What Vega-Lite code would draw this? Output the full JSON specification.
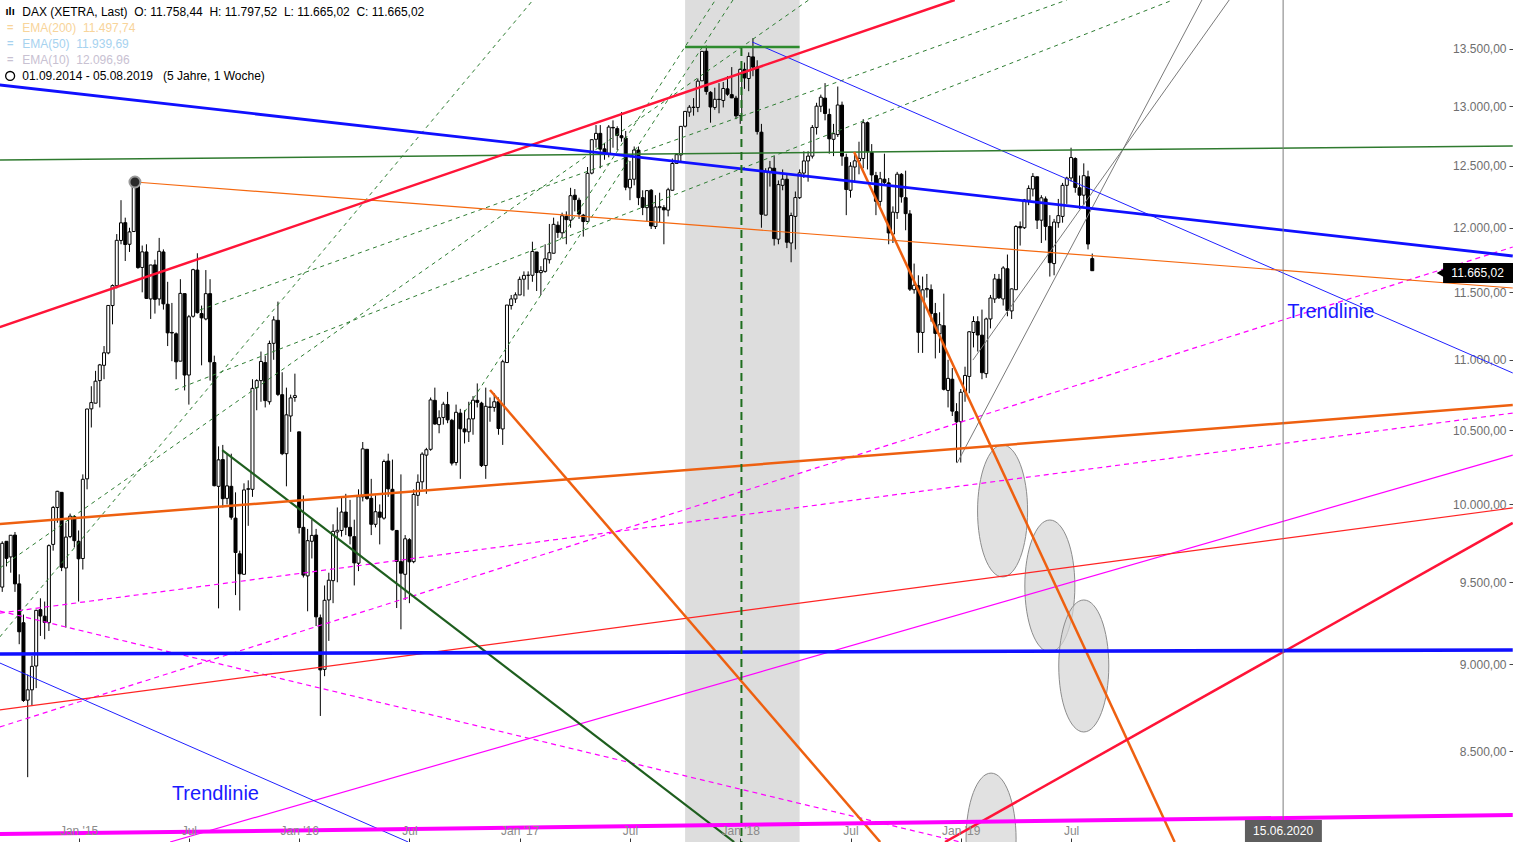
{
"$schema": "https://vega.github.io/schema/vega-lite/v6.json",
"width": 1513, "height": 842,
"autosize": {"type": "none"},
"padding": 0,
"background": "white",
"config": {"view": {"stroke": null}, "font": "Liberation Sans", "text": {"font": "Liberation Sans"}, "scale": {"continuousPadding": 0}},
"data": {"values": [{}]},
"datasets": {
"candles": [
{"d":"2014-09-01","o":9470,"h":9760,"l":9440,"c":9747},
{"d":"2014-09-08","o":9760,"h":9760,"l":9600,"c":9651},
{"d":"2014-09-15","o":9660,"h":9800,"l":9560,"c":9799},
{"d":"2014-09-22","o":9800,"h":9820,"l":9440,"c":9490},
{"d":"2014-09-29","o":9490,"h":9550,"l":9120,"c":9195},
{"d":"2014-10-06","o":9250,"h":9300,"l":8780,"c":8788},
{"d":"2014-10-13","o":8790,"h":8940,"l":8355,"c":8850},
{"d":"2014-10-20","o":8850,"h":9050,"l":8760,"c":8988},
{"d":"2014-10-27","o":8990,"h":9330,"l":8860,"c":9326},
{"d":"2014-11-03","o":9330,"h":9400,"l":9170,"c":9291},
{"d":"2014-11-10","o":9290,"h":9380,"l":9150,"c":9252},
{"d":"2014-11-17","o":9250,"h":9740,"l":9200,"c":9732},
{"d":"2014-11-24","o":9740,"h":9990,"l":9700,"c":9980},
{"d":"2014-12-01","o":9980,"h":10090,"l":9880,"c":10087},
{"d":"2014-12-08","o":10080,"h":10080,"l":9570,"c":9594},
{"d":"2014-12-15","o":9590,"h":9880,"l":9220,"c":9787},
{"d":"2014-12-22","o":9790,"h":9940,"l":9780,"c":9923},
{"d":"2014-12-29","o":9920,"h":9930,"l":9720,"c":9764},
{"d":"2015-01-05","o":9760,"h":9830,"l":9380,"c":9648},
{"d":"2015-01-12","o":9650,"h":10200,"l":9580,"c":10167},
{"d":"2015-01-19","o":10170,"h":10650,"l":10100,"c":10649},
{"d":"2015-01-26","o":10650,"h":10810,"l":10520,"c":10694},
{"d":"2015-02-02","o":10690,"h":10920,"l":10690,"c":10846},
{"d":"2015-02-09","o":10850,"h":10970,"l":10660,"c":10963},
{"d":"2015-02-16","o":10960,"h":11100,"l":10860,"c":11051},
{"d":"2015-02-23","o":11050,"h":11400,"l":11040,"c":11401},
{"d":"2015-03-02","o":11400,"h":11560,"l":11260,"c":11551},
{"d":"2015-03-09","o":11550,"h":11950,"l":11530,"c":11901},
{"d":"2015-03-16","o":11900,"h":12220,"l":11870,"c":12039},
{"d":"2015-03-23","o":12040,"h":12080,"l":11740,"c":11868},
{"d":"2015-03-30","o":11870,"h":12000,"l":11810,"c":11967},
{"d":"2015-04-06","o":11970,"h":12390,"l":11970,"c":12375},
{"d":"2015-04-13","o":12370,"h":12380,"l":11680,"c":11689},
{"d":"2015-04-20","o":11690,"h":11860,"l":11500,"c":11811},
{"d":"2015-04-27","o":11810,"h":11870,"l":11450,"c":11454},
{"d":"2015-05-04","o":11450,"h":11710,"l":11300,"c":11709},
{"d":"2015-05-11","o":11710,"h":11750,"l":11340,"c":11447},
{"d":"2015-05-18","o":11450,"h":11920,"l":11400,"c":11815},
{"d":"2015-05-25","o":11810,"h":11830,"l":11370,"c":11413},
{"d":"2015-06-01","o":11410,"h":11580,"l":11100,"c":11197},
{"d":"2015-06-08","o":11200,"h":11420,"l":10990,"c":11196},
{"d":"2015-06-15","o":11190,"h":11200,"l":10860,"c":10985},
{"d":"2015-06-22","o":10990,"h":11600,"l":10990,"c":11492},
{"d":"2015-06-29","o":11490,"h":11490,"l":10780,"c":10890},
{"d":"2015-07-06","o":10890,"h":11330,"l":10680,"c":11316},
{"d":"2015-07-13","o":11320,"h":11680,"l":11310,"c":11673},
{"d":"2015-07-20","o":11670,"h":11800,"l":11340,"c":11347},
{"d":"2015-07-27","o":11340,"h":11400,"l":10960,"c":11308},
{"d":"2015-08-03","o":11300,"h":11670,"l":11290,"c":11490},
{"d":"2015-08-10","o":11490,"h":11600,"l":10850,"c":10985},
{"d":"2015-08-17","o":10980,"h":11030,"l":10120,"c":10124},
{"d":"2015-08-24","o":10120,"h":10390,"l":9338,"c":10298},
{"d":"2015-08-31","o":10300,"h":10400,"l":9980,"c":10038},
{"d":"2015-09-07","o":10040,"h":10340,"l":10000,"c":10123},
{"d":"2015-09-14","o":10120,"h":10340,"l":9900,"c":9916},
{"d":"2015-09-21","o":9910,"h":10080,"l":9420,"c":9688},
{"d":"2015-09-28","o":9680,"h":9700,"l":9325,"c":9553},
{"d":"2015-10-05","o":9550,"h":10140,"l":9550,"c":10096},
{"d":"2015-10-12","o":10100,"h":10160,"l":9860,"c":10104},
{"d":"2015-10-19","o":10100,"h":10860,"l":10050,"c":10795},
{"d":"2015-10-26","o":10800,"h":10860,"l":10640,"c":10850},
{"d":"2015-11-02","o":10850,"h":11060,"l":10700,"c":10988},
{"d":"2015-11-09","o":10980,"h":11030,"l":10660,"c":10708},
{"d":"2015-11-16","o":10700,"h":11140,"l":10680,"c":11119},
{"d":"2015-11-23","o":11120,"h":11320,"l":11000,"c":11293},
{"d":"2015-11-30","o":11290,"h":11430,"l":10740,"c":10752},
{"d":"2015-12-07","o":10750,"h":10910,"l":10330,"c":10340},
{"d":"2015-12-14","o":10340,"h":10800,"l":10120,"c":10608},
{"d":"2015-12-21","o":10600,"h":10750,"l":10490,"c":10727},
{"d":"2015-12-28","o":10730,"h":10900,"l":10700,"c":10743},
{"d":"2016-01-04","o":10490,"h":10490,"l":9810,"c":9849},
{"d":"2016-01-11","o":9850,"h":10060,"l":9530,"c":9545},
{"d":"2016-01-18","o":9540,"h":9840,"l":9320,"c":9764},
{"d":"2016-01-25","o":9760,"h":9900,"l":9650,"c":9798},
{"d":"2016-02-01","o":9800,"h":9840,"l":9230,"c":9286},
{"d":"2016-02-08","o":9280,"h":9300,"l":8699,"c":8967},
{"d":"2016-02-15","o":8970,"h":9480,"l":8930,"c":9388},
{"d":"2016-02-22","o":9390,"h":9560,"l":9140,"c":9513},
{"d":"2016-02-29","o":9510,"h":9870,"l":9370,"c":9824},
{"d":"2016-03-07","o":9820,"h":9980,"l":9500,"c":9831},
{"d":"2016-03-14","o":9830,"h":10050,"l":9790,"c":9950},
{"d":"2016-03-21","o":9950,"h":10070,"l":9800,"c":9851},
{"d":"2016-03-28","o":9850,"h":10030,"l":9740,"c":9794},
{"d":"2016-04-04","o":9790,"h":9900,"l":9480,"c":9622},
{"d":"2016-04-11","o":9620,"h":10100,"l":9570,"c":10051},
{"d":"2016-04-18","o":10050,"h":10420,"l":10020,"c":10373},
{"d":"2016-04-25","o":10370,"h":10370,"l":10030,"c":10039},
{"d":"2016-05-02","o":10040,"h":10170,"l":9800,"c":9870},
{"d":"2016-05-09","o":9870,"h":10060,"l":9850,"c":9952},
{"d":"2016-05-16","o":9950,"h":10000,"l":9740,"c":9916},
{"d":"2016-05-23","o":9910,"h":10300,"l":9900,"c":10287},
{"d":"2016-05-30","o":10290,"h":10340,"l":10050,"c":10103},
{"d":"2016-06-06","o":10100,"h":10300,"l":9830,"c":9834},
{"d":"2016-06-13","o":9830,"h":9830,"l":9340,"c":9631},
{"d":"2016-06-20","o":9630,"h":10200,"l":9210,"c":9557},
{"d":"2016-06-27","o":9550,"h":9800,"l":9390,"c":9776},
{"d":"2016-07-04","o":9770,"h":9780,"l":9370,"c":9629},
{"d":"2016-07-11","o":9630,"h":10100,"l":9620,"c":10066},
{"d":"2016-07-18","o":10060,"h":10200,"l":9990,"c":10147},
{"d":"2016-07-25","o":10150,"h":10350,"l":10100,"c":10337},
{"d":"2016-08-01","o":10330,"h":10380,"l":10070,"c":10367},
{"d":"2016-08-08","o":10370,"h":10730,"l":10360,"c":10713},
{"d":"2016-08-15","o":10710,"h":10800,"l":10540,"c":10544},
{"d":"2016-08-22","o":10540,"h":10640,"l":10480,"c":10588},
{"d":"2016-08-29","o":10590,"h":10700,"l":10540,"c":10683},
{"d":"2016-09-05","o":10680,"h":10770,"l":10550,"c":10573},
{"d":"2016-09-12","o":10570,"h":10580,"l":10260,"c":10276},
{"d":"2016-09-19","o":10280,"h":10680,"l":10260,"c":10626},
{"d":"2016-09-26","o":10620,"h":10650,"l":10170,"c":10511},
{"d":"2016-10-03","o":10510,"h":10640,"l":10410,"c":10490},
{"d":"2016-10-10","o":10490,"h":10700,"l":10420,"c":10580},
{"d":"2016-10-17","o":10580,"h":10740,"l":10470,"c":10711},
{"d":"2016-10-24","o":10710,"h":10830,"l":10660,"c":10696},
{"d":"2016-10-31","o":10690,"h":10700,"l":10250,"c":10259},
{"d":"2016-11-07","o":10260,"h":10800,"l":10170,"c":10668},
{"d":"2016-11-14","o":10660,"h":10730,"l":10560,"c":10664},
{"d":"2016-11-21","o":10660,"h":10760,"l":10630,"c":10700},
{"d":"2016-11-28","o":10700,"h":10730,"l":10470,"c":10513},
{"d":"2016-12-05","o":10510,"h":11000,"l":10400,"c":10986},
{"d":"2016-12-12","o":10980,"h":11400,"l":10980,"c":11404},
{"d":"2016-12-19","o":11400,"h":11480,"l":11370,"c":11450},
{"d":"2016-12-26","o":11450,"h":11500,"l":11420,"c":11481},
{"d":"2017-01-02","o":11480,"h":11620,"l":11480,"c":11599},
{"d":"2017-01-09","o":11600,"h":11660,"l":11470,"c":11629},
{"d":"2017-01-16","o":11630,"h":11660,"l":11520,"c":11630},
{"d":"2017-01-23","o":11630,"h":11890,"l":11580,"c":11814},
{"d":"2017-01-30","o":11810,"h":11810,"l":11510,"c":11651},
{"d":"2017-02-06","o":11650,"h":11700,"l":11480,"c":11666},
{"d":"2017-02-13","o":11660,"h":11870,"l":11650,"c":11757},
{"d":"2017-02-20","o":11750,"h":12030,"l":11720,"c":11804},
{"d":"2017-02-27","o":11800,"h":12080,"l":11800,"c":12027},
{"d":"2017-03-06","o":12020,"h":12050,"l":11920,"c":11963},
{"d":"2017-03-13","o":11960,"h":12120,"l":11920,"c":12095},
{"d":"2017-03-20","o":12090,"h":12130,"l":11870,"c":12064},
{"d":"2017-03-27","o":12060,"h":12320,"l":12000,"c":12256},
{"d":"2017-04-03","o":12260,"h":12310,"l":12130,"c":12225},
{"d":"2017-04-10","o":12220,"h":12240,"l":12070,"c":12109},
{"d":"2017-04-17","o":12100,"h":12110,"l":11930,"c":12049},
{"d":"2017-04-24","o":12050,"h":12490,"l":12050,"c":12438},
{"d":"2017-05-01","o":12440,"h":12720,"l":12430,"c":12717},
{"d":"2017-05-08","o":12720,"h":12840,"l":12650,"c":12770},
{"d":"2017-05-15","o":12770,"h":12840,"l":12480,"c":12638},
{"d":"2017-05-22","o":12640,"h":12690,"l":12550,"c":12602},
{"d":"2017-05-29","o":12600,"h":12840,"l":12570,"c":12823},
{"d":"2017-06-05","o":12820,"h":12880,"l":12650,"c":12816},
{"d":"2017-06-12","o":12810,"h":12830,"l":12630,"c":12753},
{"d":"2017-06-19","o":12750,"h":12950,"l":12700,"c":12733},
{"d":"2017-06-26","o":12730,"h":12790,"l":12300,"c":12325},
{"d":"2017-07-03","o":12320,"h":12540,"l":12220,"c":12389},
{"d":"2017-07-10","o":12390,"h":12660,"l":12340,"c":12631},
{"d":"2017-07-17","o":12630,"h":12660,"l":12180,"c":12240},
{"d":"2017-07-24","o":12240,"h":12300,"l":12100,"c":12162},
{"d":"2017-07-31","o":12160,"h":12300,"l":12050,"c":12297},
{"d":"2017-08-07","o":12300,"h":12310,"l":11990,"c":12014},
{"d":"2017-08-14","o":12010,"h":12260,"l":11990,"c":12165},
{"d":"2017-08-21","o":12160,"h":12280,"l":12040,"c":12168},
{"d":"2017-08-28","o":12160,"h":12180,"l":11870,"c":12142},
{"d":"2017-09-04","o":12140,"h":12320,"l":12090,"c":12304},
{"d":"2017-09-11","o":12300,"h":12560,"l":12300,"c":12519},
{"d":"2017-09-18","o":12520,"h":12600,"l":12520,"c":12592},
{"d":"2017-09-25","o":12590,"h":12830,"l":12530,"c":12829},
{"d":"2017-10-02","o":12830,"h":12960,"l":12820,"c":12956},
{"d":"2017-10-09","o":12950,"h":13010,"l":12910,"c":12992},
{"d":"2017-10-16","o":12990,"h":13070,"l":12920,"c":12992},
{"d":"2017-10-23","o":12990,"h":13240,"l":12950,"c":13217},
{"d":"2017-10-30","o":13220,"h":13480,"l":13220,"c":13479},
{"d":"2017-11-06","o":13480,"h":13530,"l":13100,"c":13127},
{"d":"2017-11-13","o":13120,"h":13130,"l":12860,"c":12994},
{"d":"2017-11-20","o":12990,"h":13160,"l":12970,"c":13060},
{"d":"2017-11-27","o":13060,"h":13200,"l":12940,"c":13058},
{"d":"2017-12-04","o":13050,"h":13210,"l":12990,"c":13153},
{"d":"2017-12-11","o":13150,"h":13260,"l":13090,"c":13104},
{"d":"2017-12-18","o":13100,"h":13340,"l":13070,"c":13072},
{"d":"2017-12-25","o":13070,"h":13090,"l":12890,"c":12918},
{"d":"2018-01-01","o":12920,"h":13330,"l":12850,"c":13320},
{"d":"2018-01-08","o":13320,"h":13380,"l":13150,"c":13245},
{"d":"2018-01-15","o":13240,"h":13470,"l":13130,"c":13434},
{"d":"2018-01-22","o":13430,"h":13597,"l":13260,"c":13340},
{"d":"2018-01-29","o":13340,"h":13400,"l":12760,"c":12785},
{"d":"2018-02-05","o":12780,"h":12850,"l":12000,"c":12107},
{"d":"2018-02-12","o":12100,"h":12480,"l":12100,"c":12452},
{"d":"2018-02-19","o":12450,"h":12540,"l":12330,"c":12483},
{"d":"2018-02-26","o":12480,"h":12580,"l":11860,"c":11914},
{"d":"2018-03-05","o":11910,"h":12380,"l":11870,"c":12346},
{"d":"2018-03-12","o":12340,"h":12470,"l":12300,"c":12390},
{"d":"2018-03-19","o":12390,"h":12440,"l":11840,"c":11886},
{"d":"2018-03-26","o":11880,"h":12120,"l":11730,"c":12097},
{"d":"2018-04-02","o":12090,"h":12290,"l":11830,"c":12241},
{"d":"2018-04-09","o":12240,"h":12470,"l":12230,"c":12442},
{"d":"2018-04-16","o":12440,"h":12620,"l":12400,"c":12540},
{"d":"2018-04-23","o":12540,"h":12620,"l":12370,"c":12580},
{"d":"2018-04-30","o":12580,"h":12840,"l":12560,"c":12820},
{"d":"2018-05-07","o":12820,"h":13030,"l":12760,"c":13001},
{"d":"2018-05-14","o":13000,"h":13100,"l":12950,"c":13078},
{"d":"2018-05-21","o":13070,"h":13200,"l":12880,"c":12938},
{"d":"2018-05-28","o":12930,"h":12980,"l":12600,"c":12724},
{"d":"2018-06-04","o":12720,"h":12850,"l":12580,"c":12767},
{"d":"2018-06-11","o":12760,"h":13170,"l":12740,"c":13011},
{"d":"2018-06-18","o":13010,"h":13040,"l":12500,"c":12580},
{"d":"2018-06-25","o":12570,"h":12600,"l":12100,"c":12306},
{"d":"2018-07-02","o":12300,"h":12530,"l":12240,"c":12497},
{"d":"2018-07-09","o":12490,"h":12610,"l":12360,"c":12541},
{"d":"2018-07-16","o":12540,"h":12700,"l":12430,"c":12561},
{"d":"2018-07-23","o":12560,"h":12890,"l":12480,"c":12860},
{"d":"2018-07-30","o":12860,"h":12870,"l":12470,"c":12616},
{"d":"2018-08-06","o":12610,"h":12680,"l":12370,"c":12425},
{"d":"2018-08-13","o":12420,"h":12450,"l":12100,"c":12211},
{"d":"2018-08-20","o":12210,"h":12450,"l":12170,"c":12394},
{"d":"2018-08-27","o":12390,"h":12600,"l":12340,"c":12364},
{"d":"2018-09-03","o":12360,"h":12400,"l":11870,"c":11959},
{"d":"2018-09-10","o":11950,"h":12170,"l":11880,"c":12124},
{"d":"2018-09-17","o":12120,"h":12450,"l":12070,"c":12431},
{"d":"2018-09-24","o":12430,"h":12440,"l":12200,"c":12247},
{"d":"2018-10-01","o":12240,"h":12460,"l":11980,"c":12112},
{"d":"2018-10-08","o":12110,"h":12140,"l":11510,"c":11524},
{"d":"2018-10-15","o":11520,"h":11720,"l":11490,"c":11554},
{"d":"2018-10-22","o":11550,"h":11630,"l":11050,"c":11201},
{"d":"2018-10-29","o":11200,"h":11620,"l":11050,"c":11519},
{"d":"2018-11-05","o":11520,"h":11640,"l":11460,"c":11529},
{"d":"2018-11-12","o":11520,"h":11560,"l":11280,"c":11341},
{"d":"2018-11-19","o":11340,"h":11420,"l":11010,"c":11193},
{"d":"2018-11-26","o":11190,"h":11350,"l":11050,"c":11257},
{"d":"2018-12-03","o":11250,"h":11490,"l":10780,"c":10788},
{"d":"2018-12-10","o":10780,"h":11000,"l":10660,"c":10866},
{"d":"2018-12-17","o":10860,"h":10940,"l":10600,"c":10634},
{"d":"2018-12-24","o":10630,"h":10690,"l":10280,"c":10559},
{"d":"2018-12-31","o":10560,"h":10790,"l":10280,"c":10767},
{"d":"2019-01-07","o":10770,"h":10950,"l":10700,"c":10887},
{"d":"2019-01-14","o":10880,"h":11210,"l":10760,"c":11205},
{"d":"2019-01-21","o":11200,"h":11320,"l":11090,"c":11281},
{"d":"2019-01-28","o":11280,"h":11320,"l":11060,"c":11181},
{"d":"2019-02-04","o":11180,"h":11370,"l":10860,"c":10907},
{"d":"2019-02-11","o":10900,"h":11310,"l":10870,"c":11300},
{"d":"2019-02-18","o":11300,"h":11480,"l":11230,"c":11457},
{"d":"2019-02-25","o":11450,"h":11640,"l":11420,"c":11602},
{"d":"2019-03-04","o":11600,"h":11640,"l":11450,"c":11458},
{"d":"2019-03-11","o":11450,"h":11700,"l":11400,"c":11686},
{"d":"2019-03-18","o":11680,"h":11790,"l":11320,"c":11364},
{"d":"2019-03-25","o":11360,"h":11530,"l":11300,"c":11526},
{"d":"2019-04-01","o":11520,"h":12020,"l":11520,"c":12010},
{"d":"2019-04-08","o":12010,"h":12050,"l":11860,"c":11999},
{"d":"2019-04-15","o":12000,"h":12230,"l":11990,"c":12222},
{"d":"2019-04-22","o":12220,"h":12340,"l":12180,"c":12315},
{"d":"2019-04-29","o":12310,"h":12440,"l":12250,"c":12413},
{"d":"2019-05-06","o":12410,"h":12410,"l":11990,"c":12060},
{"d":"2019-05-13","o":12060,"h":12260,"l":11880,"c":12239},
{"d":"2019-05-20","o":12230,"h":12250,"l":11900,"c":12011},
{"d":"2019-05-27","o":12010,"h":12100,"l":11620,"c":11727},
{"d":"2019-06-03","o":11720,"h":12070,"l":11630,"c":12045},
{"d":"2019-06-10","o":12040,"h":12230,"l":12000,"c":12096},
{"d":"2019-06-17","o":12090,"h":12360,"l":12040,"c":12340},
{"d":"2019-06-24","o":12340,"h":12410,"l":12190,"c":12399},
{"d":"2019-07-01","o":12400,"h":12650,"l":12370,"c":12568},
{"d":"2019-07-08","o":12560,"h":12570,"l":12280,"c":12323},
{"d":"2019-07-15","o":12320,"h":12420,"l":12150,"c":12260},
{"d":"2019-07-22","o":12260,"h":12520,"l":12180,"c":12419},
{"d":"2019-07-29","o":12410,"h":12460,"l":11830,"c":11872},
{"d":"2019-08-05","o":11758.44,"h":11797.52,"l":11665.02,"c":11665.02}
],
"lines": [
{"k":"L1","d":"2014-08-28","p":13183.5},{"k":"L1","d":"2021-06-29","p":11778.6},
{"k":"L10","d":"2014-08-28","p":9061.5},{"k":"L10","d":"2021-06-29","p":9085.4},
{"k":"L2","d":"2018-01-21","p":13562},{"k":"L2","d":"2021-06-29","p":10904.8},
{"k":"L11","d":"2014-08-28","p":9007.9},{"k":"L11","d":"2016-07-02","p":8005.6},
{"k":"L3","d":"2014-08-28","p":12547.8},{"k":"L3","d":"2021-06-29","p":12664.1},
{"k":"L4","d":"2014-08-28","p":11240.1},{"k":"L4","d":"2018-12-21","p":13943},
{"k":"L14","d":"2018-12-05","p":8005.6},{"k":"L14","d":"2021-06-29","p":9878.6},
{"k":"L5","d":"2015-04-08","p":12367},{"k":"L5","d":"2021-06-29","p":11532.7},
{"k":"L6","d":"2014-08-28","p":9872.1},{"k":"L6","d":"2021-06-29","p":10676.7},
{"k":"L7","d":"2016-11-14","p":10783},{"k":"L7","d":"2018-08-20","p":8005.6},
{"k":"L8","d":"2018-07-08","p":12614},{"k":"L8","d":"2019-12-19","p":8005.6},
{"k":"L9","d":"2015-08-30","p":10365},{"k":"L9","d":"2017-12-22","p":8005.6},
{"k":"L12","d":"2015-06-05","p":8005.6},{"k":"L12","d":"2021-06-29","p":10330.3},
{"k":"L13","d":"2014-08-28","p":8733.2},{"k":"L13","d":"2021-06-29","p":9976.7},
{"k":"L15","d":"2014-08-28","p":8047.4},{"k":"L15","d":"2021-06-29","p":8148.8},
{"k":"L16","d":"2014-08-28","p":8635.9},{"k":"L16","d":"2021-06-29","p":11848.6},
{"k":"L17","d":"2014-08-28","p":9309.1},{"k":"L17","d":"2021-06-29","p":10620.5},
{"k":"L18","d":"2014-08-28","p":9321.4},{"k":"L18","d":"2018-12-30","p":8005.6},
{"k":"GA","d":"2014-08-28","p":9163.8},{"k":"GA","d":"2017-01-24","p":13943},
{"k":"GB","d":"2014-08-28","p":9589.3},{"k":"GB","d":"2018-04-24","p":13943},
{"k":"GC","d":"2015-06-13","p":10783},{"k":"GC","d":"2019-12-16","p":13943},
{"k":"GE","d":"2015-07-24","p":11366.7},{"k":"GE","d":"2019-06-24","p":13943},
{"k":"GF","d":"2016-10-03","p":10627.4},{"k":"GF","d":"2017-12-20","p":13943},
{"k":"GG","d":"2017-03-09","p":11903.3},{"k":"GG","d":"2017-11-21","p":13943},
{"k":"G1","d":"2018-12-25","p":10276},{"k":"G1","d":"2020-02-02","p":13943},
{"k":"G2","d":"2019-01-20","p":10998},{"k":"G2","d":"2020-03-18","p":13943}
],
"ellipses": [
{"d":"2019-03-10","p":9957},
{"d":"2019-05-27","p":9476.6},
{"d":"2019-07-22","p":8990.2},
{"d":"2019-02-19","p":8020.9}
]
},
"layer": [
{
"mark": {"type": "rect", "fill": "#d9d9d9", "opacity": 0.9},
"encoding": {
"x": {"datum": {"year":2017,"month":10,"date":2,"utc":true}, "type": "temporal", "title": null,
"scale": {"type": "utc", "domain": [{"year":2014,"month":8,"date":28,"hours":7,"utc":true},{"year":2021,"month":6,"date":29,"hours":10,"utc":true}], "nice": false, "padding": 0}},
"x2": {"datum": {"year":2018,"month":4,"date":9,"utc":true}}
}
},
{
"data": {"name": "ellipses"},
"mark": {"type": "point", "shape": "M0,-1A0.379,1,0,1,1,0,1A0.379,1,0,1,1,0,-1Z", "size": 17424, "filled": true, "fill": "#d6d6d6", "fillOpacity": 0.72, "stroke": "#8c8c8c", "strokeWidth": 1, "opacity": 1, "clip": true},
"encoding": {
"x": {"field": "d", "type": "temporal", "title": null},
"y": {"field": "p", "type": "quantitative", "title": null}
}
},
{
"data": {"name": "candles"},
"mark": {"type": "rule", "color": "black", "strokeWidth": 1},
"encoding": {
"x": {"field": "d", "type": "temporal", "title": null,
"scale": {"type": "utc", "domain": [{"year":2014,"month":8,"date":28,"hours":7,"utc":true},{"year":2021,"month":6,"date":29,"hours":10,"utc":true}], "nice": false, "padding": 0},
"axis": {"values": [
{"year":2015,"month":1,"date":5,"utc":true},{"year":2015,"month":7,"date":6,"utc":true},
{"year":2016,"month":1,"date":4,"utc":true},{"year":2016,"month":7,"date":4,"utc":true},
{"year":2017,"month":1,"date":2,"utc":true},{"year":2017,"month":7,"date":3,"utc":true},
{"year":2018,"month":1,"date":1,"utc":true},{"year":2018,"month":7,"date":2,"utc":true},
{"year":2018,"month":12,"date":31,"utc":true},{"year":2019,"month":7,"date":1,"utc":true}],
"labelExpr": "utcmonth(datum.value) == 6 ? 'Jul' : \"Jan '\" + utcFormat(datum.value + 604800000, '%y')",
"domain": false, "grid": false, "tickSize": -4, "tickColor": "#333", "tickWidth": 1,
"labelPadding": -1, "labelBaseline": "bottom", "labelColor": "#8a8a8a", "labelFontSize": 12, "labelFont": "Liberation Sans",
"labelOverlap": false, "labelFlush": false, "title": null, "zindex": 1}},
"y": {"field": "l", "type": "quantitative", "title": null,
"scale": {"type": "log", "domain": [8005.6, 13943], "nice": false, "padding": 0},
"axis": {"orient": "right", "values": [8500,9000,9500,10000,10500,11000,11500,12000,12500,13000,13500],
"labelExpr": "replace(replace(replace(format(datum.value, ',.2f'), ',', '#'), '.', ','), '#', '.')",
"domain": false, "grid": false, "tickSize": -4, "tickColor": "#444", "labelPadding": -3,
"labelAlign": "right", "labelBaseline": "middle", "labelColor": "#6e6e6e", "labelFontSize": 12, "labelFont": "Liberation Sans",
"labelOverlap": false, "labelFlush": false, "title": null}},
"y2": {"field": "h"}
}
},
{
"data": {"name": "candles"},
"mark": {"type": "bar", "width": 3, "stroke": "black", "strokeWidth": 1},
"encoding": {
"x": {"field": "d", "type": "temporal", "title": null},
"y": {"field": "o", "type": "quantitative", "title": null},
"y2": {"field": "c"},
"fill": {"condition": {"test": "datum.c >= datum.o", "value": "white"}, "value": "black"}
}
},
{
"data": {"name": "lines"},
"transform": [{"filter": {"field": "k", "oneOf": ["GA","GB","GC","GE","GF","GG"]}}],
"mark": {"type": "line", "color": "#2e7d32", "strokeWidth": 1, "strokeDash": [4,4], "clip": true},
"encoding": {"x": {"field": "d", "type": "temporal", "title": null}, "y": {"field": "p", "type": "quantitative", "title": null}, "detail": {"field": "k"}}
},
{
"data": {"name": "lines"},
"transform": [{"filter": {"field": "k", "oneOf": ["L16","L17","L18"]}}],
"mark": {"type": "line", "color": "#ff00ff", "strokeWidth": 1.2, "strokeDash": [5,4], "clip": true},
"encoding": {"x": {"field": "d", "type": "temporal", "title": null}, "y": {"field": "p", "type": "quantitative", "title": null}, "detail": {"field": "k"}}
},
{
"data": {"name": "lines"},
"transform": [{"filter": {"field": "k", "oneOf": ["G1","G2"]}}],
"mark": {"type": "line", "color": "#7a7a7a", "strokeWidth": 1, "clip": true},
"encoding": {"x": {"field": "d", "type": "temporal", "title": null}, "y": {"field": "p", "type": "quantitative", "title": null}, "detail": {"field": "k"}}
},
{
"data": {"name": "lines"},
"transform": [{"filter": {"field": "k", "oneOf": ["L12"]}}],
"mark": {"type": "line", "color": "#ff00ff", "strokeWidth": 1.2, "clip": true},
"encoding": {"x": {"field": "d", "type": "temporal", "title": null}, "y": {"field": "p", "type": "quantitative", "title": null}, "detail": {"field": "k"}}
},
{
"data": {"name": "lines"},
"transform": [{"filter": {"field": "k", "oneOf": ["L13"]}}],
"mark": {"type": "line", "color": "#ff2424", "strokeWidth": 1.2, "clip": true},
"encoding": {"x": {"field": "d", "type": "temporal", "title": null}, "y": {"field": "p", "type": "quantitative", "title": null}, "detail": {"field": "k"}}
},
{
"data": {"name": "lines"},
"transform": [{"filter": {"field": "k", "oneOf": ["L2","L11"]}}],
"mark": {"type": "line", "color": "#2020ff", "strokeWidth": 1, "clip": true},
"encoding": {"x": {"field": "d", "type": "temporal", "title": null}, "y": {"field": "p", "type": "quantitative", "title": null}, "detail": {"field": "k"}}
},
{
"data": {"name": "lines"},
"transform": [{"filter": {"field": "k", "oneOf": ["L3"]}}],
"mark": {"type": "line", "color": "#2f7a2f", "strokeWidth": 1.5, "clip": true},
"encoding": {"x": {"field": "d", "type": "temporal", "title": null}, "y": {"field": "p", "type": "quantitative", "title": null}, "detail": {"field": "k"}}
},
{
"data": {"name": "lines"},
"transform": [{"filter": {"field": "k", "oneOf": ["L5"]}}],
"mark": {"type": "line", "color": "#f5680f", "strokeWidth": 1.2, "clip": true},
"encoding": {"x": {"field": "d", "type": "temporal", "title": null}, "y": {"field": "p", "type": "quantitative", "title": null}, "detail": {"field": "k"}}
},
{
"data": {"name": "lines"},
"transform": [{"filter": {"field": "k", "oneOf": ["L9"]}}],
"mark": {"type": "line", "color": "#1e5e1e", "strokeWidth": 2.2, "clip": true},
"encoding": {"x": {"field": "d", "type": "temporal", "title": null}, "y": {"field": "p", "type": "quantitative", "title": null}, "detail": {"field": "k"}}
},
{
"data": {"name": "lines"},
"transform": [{"filter": {"field": "k", "oneOf": ["L6","L7","L8"]}}],
"mark": {"type": "line", "color": "#ee6010", "strokeWidth": 2.5, "clip": true},
"encoding": {"x": {"field": "d", "type": "temporal", "title": null}, "y": {"field": "p", "type": "quantitative", "title": null}, "detail": {"field": "k"}}
},
{
"data": {"name": "lines"},
"transform": [{"filter": {"field": "k", "oneOf": ["L4","L14"]}}],
"mark": {"type": "line", "color": "#ff1438", "strokeWidth": 2.5, "clip": true},
"encoding": {"x": {"field": "d", "type": "temporal", "title": null}, "y": {"field": "p", "type": "quantitative", "title": null}, "detail": {"field": "k"}}
},
{
"data": {"name": "lines"},
"transform": [{"filter": {"field": "k", "oneOf": ["L15"]}}],
"mark": {"type": "line", "color": "#ff00ff", "strokeWidth": 4, "clip": true},
"encoding": {"x": {"field": "d", "type": "temporal", "title": null}, "y": {"field": "p", "type": "quantitative", "title": null}, "detail": {"field": "k"}}
},
{
"data": {"name": "lines"},
"transform": [{"filter": {"field": "k", "oneOf": ["L1"]}}],
"mark": {"type": "line", "color": "#1010ff", "strokeWidth": 2.8, "clip": true},
"encoding": {"x": {"field": "d", "type": "temporal", "title": null}, "y": {"field": "p", "type": "quantitative", "title": null}, "detail": {"field": "k"}}
},
{
"data": {"name": "lines"},
"transform": [{"filter": {"field": "k", "oneOf": ["L10"]}}],
"mark": {"type": "line", "color": "#1010ff", "strokeWidth": 3.6, "clip": true},
"encoding": {"x": {"field": "d", "type": "temporal", "title": null}, "y": {"field": "p", "type": "quantitative", "title": null}, "detail": {"field": "k"}}
},
{
"mark": {"type": "rule", "color": "#1e6e1e", "strokeWidth": 2, "strokeDash": [8,5]},
"encoding": {
"x": {"datum": {"year":2018,"month":1,"date":3,"utc":true}, "type": "temporal", "title": null},
"y": {"datum": 13509, "type": "quantitative", "title": null},
"y2": {"datum": 8005.6}
}
},
{
"mark": {"type": "rule", "color": "#2e8b2e", "strokeWidth": 2.5},
"encoding": {
"x": {"datum": {"year":2017,"month":10,"date":2,"utc":true}, "type": "temporal", "title": null},
"x2": {"datum": {"year":2018,"month":4,"date":9,"utc":true}},
"y": {"datum": 13518, "type": "quantitative", "title": null}
}
},
{
"mark": {"type": "rule", "color": "#7d7d7d", "strokeWidth": 1},
"encoding": {
"x": {"datum": {"year":2020,"month":6,"date":15,"utc":true}, "type": "temporal", "title": null},
"y": {"datum": 13943, "type": "quantitative", "title": null},
"y2": {"datum": 8122}
}
},
{
"mark": {"type": "rect", "fill": "#5e5e5e"},
"encoding": {
"x": {"datum": {"year":2020,"month":4,"date":13,"utc":true}, "type": "temporal", "title": null},
"x2": {"datum": {"year":2020,"month":8,"date":18,"utc":true}},
"y": {"datum": 8122, "type": "quantitative", "title": null},
"y2": {"datum": 8005.6}
}
},
{
"mark": {"type": "text", "text": "15.06.2020", "color": "white", "fontSize": 12, "align": "center", "baseline": "middle"},
"encoding": {
"x": {"datum": {"year":2020,"month":6,"date":15,"utc":true}, "type": "temporal", "title": null},
"y": {"datum": 8066, "type": "quantitative", "title": null}
}
},
{
"mark": {"type": "rect", "fill": "black"},
"encoding": {
"x": {"datum": {"year":2021,"month":3,"date":6,"utc":true}, "type": "temporal", "title": null},
"x2": {"datum": {"year":2021,"month":6,"date":29,"hours":10,"utc":true}},
"y": {"datum": 11724, "type": "quantitative", "title": null},
"y2": {"datum": 11571}
}
},
{
"mark": {"type": "point", "shape": "triangle-left", "size": 110, "filled": true, "fill": "black", "opacity": 1},
"encoding": {
"x": {"datum": {"year":2021,"month":3,"date":3,"utc":true}, "type": "temporal", "title": null},
"y": {"datum": 11647, "type": "quantitative", "title": null}
}
},
{
"mark": {"type": "text", "text": "11.665,02", "color": "white", "fontSize": 12, "align": "center", "baseline": "middle"},
"encoding": {
"x": {"datum": {"year":2021,"month":5,"date":2,"utc":true}, "type": "temporal", "title": null},
"y": {"datum": 11647, "type": "quantitative", "title": null}
}
},
{
"mark": {"type": "point", "shape": "circle", "size": 120, "filled": true, "fill": "#2a2a2a", "stroke": "#9a9a9a", "strokeWidth": 2, "opacity": 1},
"encoding": {
"x": {"datum": {"year":2015,"month":4,"date":8,"utc":true}, "type": "temporal", "title": null},
"y": {"datum": 12367, "type": "quantitative", "title": null}
}
},
{
"mark": {"type": "text", "text": "Trendlinie", "color": "#1a1aff", "fontSize": 20, "align": "left", "baseline": "middle"},
"encoding": {
"x": {"datum": {"year":2015,"month":6,"date":8,"utc":true}, "type": "temporal", "title": null},
"y": {"datum": 8263, "type": "quantitative", "title": null}
}
},
{
"mark": {"type": "text", "text": "Trendlinie", "color": "#1a1aff", "fontSize": 20, "align": "left", "baseline": "middle"},
"encoding": {
"x": {"datum": {"year":2020,"month":6,"date":22,"utc":true}, "type": "temporal", "title": null},
"y": {"datum": 11352, "type": "quantitative", "title": null}
}
},
{
"mark": {"type": "text", "text": "DAX (XETRA, Last)\u00a0\u00a0O: 11.758,44\u00a0\u00a0H: 11.797,52\u00a0\u00a0L: 11.665,02\u00a0\u00a0C: 11.665,02", "color": "black", "fontSize": 12, "align": "left", "baseline": "middle"},
"encoding": {
"x": {"datum": {"year":2014,"month":10,"date":4,"utc":true}, "type": "temporal", "title": null},
"y": {"datum": 13833, "type": "quantitative", "title": null}
}
},
{
"mark": {"type": "text", "text": "ılı", "color": "black", "fontSize": 11, "fontWeight": "bold", "align": "center", "baseline": "middle"},
"encoding": {
"x": {"datum": {"year":2014,"month":9,"date":14,"utc":true}, "type": "temporal", "title": null},
"y": {"datum": 13833, "type": "quantitative", "title": null}
}
},
{
"mark": {"type": "text", "text": "EMA(200)\u00a0\u00a011.497,74", "color": "#f8d49a", "fontSize": 12, "align": "left", "baseline": "middle"},
"encoding": {
"x": {"datum": {"year":2014,"month":10,"date":4,"utc":true}, "type": "temporal", "title": null},
"y": {"datum": 13688, "type": "quantitative", "title": null}
}
},
{
"mark": {"type": "text", "text": "=", "color": "#f8d49a", "fontSize": 11, "fontWeight": "bold", "align": "center", "baseline": "middle"},
"encoding": {
"x": {"datum": {"year":2014,"month":9,"date":14,"utc":true}, "type": "temporal", "title": null},
"y": {"datum": 13688, "type": "quantitative", "title": null}
}
},
{
"mark": {"type": "text", "text": "EMA(50)\u00a0\u00a011.939,69", "color": "#a6d2ef", "fontSize": 12, "align": "left", "baseline": "middle"},
"encoding": {
"x": {"datum": {"year":2014,"month":10,"date":4,"utc":true}, "type": "temporal", "title": null},
"y": {"datum": 13544, "type": "quantitative", "title": null}
}
},
{
"mark": {"type": "text", "text": "=", "color": "#a6d2ef", "fontSize": 11, "fontWeight": "bold", "align": "center", "baseline": "middle"},
"encoding": {
"x": {"datum": {"year":2014,"month":9,"date":14,"utc":true}, "type": "temporal", "title": null},
"y": {"datum": 13544, "type": "quantitative", "title": null}
}
},
{
"mark": {"type": "text", "text": "EMA(10)\u00a0\u00a012.096,96", "color": "#c8c1d2", "fontSize": 12, "align": "left", "baseline": "middle"},
"encoding": {
"x": {"datum": {"year":2014,"month":10,"date":4,"utc":true}, "type": "temporal", "title": null},
"y": {"datum": 13402, "type": "quantitative", "title": null}
}
},
{
"mark": {"type": "text", "text": "=", "color": "#c8c1d2", "fontSize": 11, "fontWeight": "bold", "align": "center", "baseline": "middle"},
"encoding": {
"x": {"datum": {"year":2014,"month":9,"date":14,"utc":true}, "type": "temporal", "title": null},
"y": {"datum": 13402, "type": "quantitative", "title": null}
}
},
{
"mark": {"type": "text", "text": "01.09.2014 - 05.08.2019\u00a0\u00a0\u00a0(5 Jahre, 1 Woche)", "color": "black", "fontSize": 12, "align": "left", "baseline": "middle"},
"encoding": {
"x": {"datum": {"year":2014,"month":10,"date":4,"utc":true}, "type": "temporal", "title": null},
"y": {"datum": 13262, "type": "quantitative", "title": null}
}
},
{
"mark": {"type": "point", "shape": "circle", "size": 80, "filled": false, "stroke": "black", "strokeWidth": 1.3, "opacity": 1},
"encoding": {
"x": {"datum": {"year":2014,"month":9,"date":14,"utc":true}, "type": "temporal", "title": null},
"y": {"datum": 13262, "type": "quantitative", "title": null}
}
}
]
}
